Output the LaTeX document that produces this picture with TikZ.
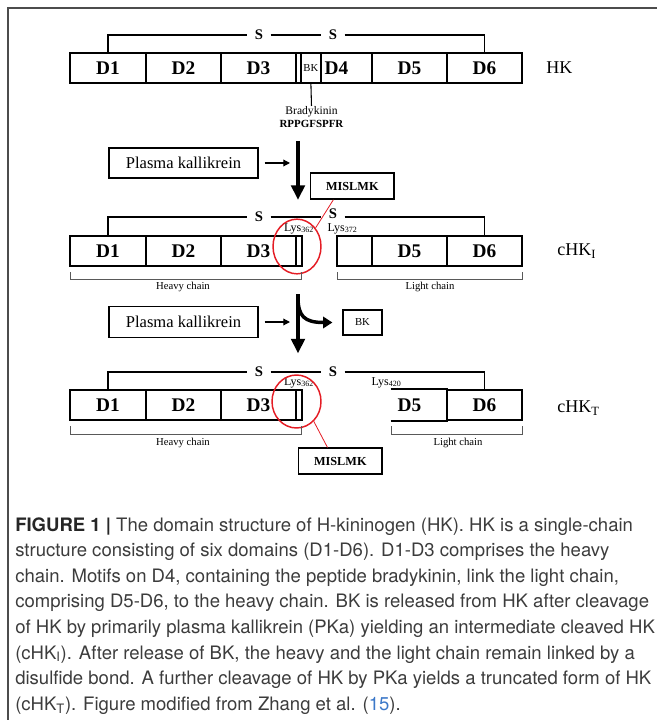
\documentclass[tikz,border=0pt]{standalone}
\usepackage{fontspec}
\setmainfont{Liberation Serif}
\newfontfamily\capfont{TeX Gyre Heros}
\usetikzlibrary{arrows.meta,shapes.geometric}

\definecolor{cutred}{RGB}{228,28,36}
\definecolor{captxt}{RGB}{60,60,60}
\definecolor{refblue}{RGB}{60,120,200}

\tikzset{
  dom/.style={draw, line width=1.4pt, minimum width=#1*0.75pt, minimum height=22.5pt, inner sep=0pt,
    font=\bfseries\fontsize{14.5}{14.5}\selectfont},
  ss/.style={line width=1.3pt},
  sbond/.style={inner xsep=5.5pt, inner ysep=0pt, font=\bfseries\fontsize{11}{11}\selectfont},
  lys/.style={inner sep=0pt, font=\fontsize{9}{9}\selectfont},
  brk/.style={line width=0.6pt, draw=black!65},
  chainlab/.style={inner sep=0pt, font=\fontsize{8}{8}\selectfont},
  formlab/.style={inner sep=0pt, anchor=west, font=\fontsize{13.5}{13.5}\selectfont},
  enzbox/.style={draw, line width=1.1pt, minimum width=111.75pt, minimum height=22.5pt, inner sep=0pt,
    font=\fontsize{12.4}{12.4}\selectfont},
  pepbox/.style={draw, line width=1.1pt, minimum width=62.5pt, minimum height=19.5pt, inner sep=0pt,
    font=\bfseries\fontsize{9.2}{9.2}\selectfont},
  cut/.style={draw=cutred, line width=1.1pt, ellipse, inner sep=0pt},
  bigarrow/.style={line width=3pt, -{Triangle[length=11pt,width=10pt]}},
  smallarrow/.style={line width=0.9pt, -{Triangle[length=5pt,width=5pt]}, shorten <=4.5pt, shorten >=6pt},
}

\begin{document}
\begin{tikzpicture}[x=0.75pt,y=0.75pt,yscale=-1,xscale=1]
\useasboundingbox (0,0) rectangle (657,720);

% frame
\draw [line width=1pt, draw=black!70] (8,720) -- (8,8) -- (657,8);

% HK
\node [dom=76] (hk1) at (108,68) {D1};
\node [dom=75] (hk2) at (183.5,68) {D2};
\node [dom=75] (hk3) at (258.5,68) {D3};
\node [dom=4.7] (hklk) at (298.4,68) {};
\node [dom=20.3, font=\fontsize{8}{8}\selectfont] (hkbk) at (310.9,68) {BK};
\node [dom=51] (hk4) at (346.5,68) {};
\node [inner sep=0pt, font=\bfseries\fontsize{14.5}{14.5}\selectfont] (hk4lab) at (336.5,68) {D4};
\node [dom=75] (hk5) at (409.5,68) {D5};
\node [dom=75] (hk6) at (484.5,68) {D6};
\node [formlab] (hk) at (546,68) {HK};

\node [sbond] (s1a) at (259,35) {S};
\node [sbond] (s1b) at (333,35) {S};
\draw [ss] (hk1.north) |- (s1a.west);
\draw [ss] (s1a.east) -- (s1b.west);
\draw [ss] (s1b.east) -| (hk6.north);

% bradykinin
\node [inner sep=0pt, align=center, font=\fontsize{8.7}{10}\selectfont, anchor=north] (brady) at (311.5,106)
  {Bradykinin\\[0pt]\textbf{\fontsize{8.2}{10}\selectfont RPPGFSPFR}};
\draw [line width=0.8pt] (hkbk.south) -- (brady.north);

% first cleavage
\node [enzbox] (pk1) at (183.5,163) {Plasma kallikrein};
\coordinate (a1s) at (298,141);
\coordinate (a1e) at (298,200);
\draw [bigarrow] (a1s) -- (a1e);
\draw [smallarrow] (pk1.east) -- (pk1.east -| a1s);
\node [pepbox] (mis1) at (352.3,186) {MISLMK};

% cHK_I
\node [dom=76] (ci1) at (108,251) {D1};
\node [dom=75] (ci2) at (183.5,251) {D2};
\node [dom=75] (ci3) at (258.5,251) {D3};
\node [dom=5.7] (cilk) at (298.9,251) {};
\node [dom=35] (ci4) at (354.5,251) {};
\node [dom=75] (ci5) at (409.5,251) {D5};
\node [dom=75] (ci6) at (484.5,251) {D6};
\node [formlab] (chki) at (557,251) {cHK\textsubscript{I}};

\node [sbond] (s2a) at (259,217) {S};
\node [sbond] (s2b) at (333,213.5) {S};
\draw [ss] (ci1.north) |- (s2a.west);
\draw [ss] (s2a.east) -- (s2a.east -| s2b.west);
\draw [ss] (s2a.east -| s2b.east) -| (ci6.north);
\node [lys] (lys2a) at (299,228.5) {Lys\textsubscript{362}};
\node [lys] (lys2b) at (342.5,228.5) {Lys\textsubscript{372}};

\node [cut, minimum width=36pt, minimum height=41pt] (cut1) at (297,246.5) {};
\draw [draw=cutred, line width=0.6pt] (cut1.45) -- (mis1.216);

\draw [brk] (70,272) -- (70,279) -- (301.7,279) -- (301.7,272);
\draw [brk] (337,272) -- (337,279) -- (522,279) -- (522,272);
\node [chainlab] (hv2) at (183,287) {Heavy chain};
\node [chainlab] (lt2) at (430,287) {Light chain};

% second cleavage
\node [enzbox, minimum height=23pt] (pk2) at (183.5,322) {Plasma kallikrein};
\coordinate (a2s) at (298,294);
\coordinate (a2e) at (298,353.5);
\draw [bigarrow] (a2s) -- (a2e);
\draw [smallarrow] (pk2.east) -- (pk2.east -| a2s);
\node [draw, line width=0.9pt, minimum width=29.25pt, minimum height=18.75pt, inner sep=0pt,
  font=\fontsize{8}{8}\selectfont] (bk) at (362.5,322.5) {BK};
\draw [line width=2.6pt, -{Triangle[length=7pt,width=8.5pt]}, shorten >=7.5pt]
  (298,297) .. controls (298,316) and (304,322.5) .. (bk.west);

% cHK_T
\node [dom=76] (ct1) at (108,405) {D1};
\node [dom=75] (ct2) at (183.5,405) {D2};
\node [dom=75] (ct3) at (258.5,405) {D3};
\node [dom=5.7] (ctlk) at (298.9,405) {};
\node [dom=55.3, draw=none] (ct5) at (419.3,405) {};
\node [inner sep=0pt, font=\bfseries\fontsize{14.5}{14.5}\selectfont] (ct5lab) at (409.5,405) {D5};
\draw [line width=1.4pt] (ct5.north west) -- (ct5.north east) (ct5.south west) -- (ct5.south east);
\node [dom=75] (ct6) at (484.5,405) {D6};
\node [formlab] (chkt) at (557,408) {cHK\textsubscript{T}};

\node [sbond] (s3a) at (259,372) {S};
\node [sbond] (s3b) at (333,372) {S};
\draw [ss] (ct1.north) |- (s3a.west);
\draw [ss] (s3a.east) -- (s3b.west);
\draw [ss] (s3b.east) -| (ct6.north);
\node [lys] (lys3a) at (299,383) {Lys\textsubscript{362}};
\node [lys] (lys3b) at (386.5,382.5) {Lys\textsubscript{420}};

\node [cut, minimum width=36.75pt, minimum height=39.75pt] (cut2) at (296.5,401.5) {};
\node [pepbox] (mis2) at (340.3,461.2) {MISLMK};
\draw [draw=cutred, line width=0.6pt] (cut2.-49) -- (mis2.133);

\draw [brk] (70,426) -- (70,434) -- (301.7,434) -- (301.7,426);
\draw [brk] (391.7,426) -- (391.7,434) -- (522,434) -- (522,426);
\node [chainlab] (hv3) at (183,442.7) {Heavy chain};
\node [chainlab] (lt3) at (458,442.7) {Light chain};

% caption
\node [anchor=north west, inner sep=0pt, align=left, text=captxt,
  font=\capfont\fontsize{13.9}{19.2}\selectfont] (cap) at (15,517)
  {\textcolor{black!85}{\textbf{FIGURE 1 |}} The domain structure of H-kininogen (HK). HK is a single-chain\\
   structure consisting of six domains (D1-D6). D1-D3 comprises the heavy\\
   chain. Motifs on D4, containing the peptide bradykinin, link the light chain,\\
   comprising D5-D6, to the heavy chain. BK is released from HK after cleavage\\
   of HK by primarily plasma kallikrein (PKa) yielding an intermediate cleaved HK\\
   (cHK\textsubscript{I}). After release of BK, the heavy and the light chain remain linked by a\\
   disulfide bond. A further cleavage of HK by PKa yields a truncated form of HK\\
   (cHK\textsubscript{T}). Figure modified from Zhang et al. (\textcolor{refblue}{15}).};

\end{tikzpicture}
\end{document}
